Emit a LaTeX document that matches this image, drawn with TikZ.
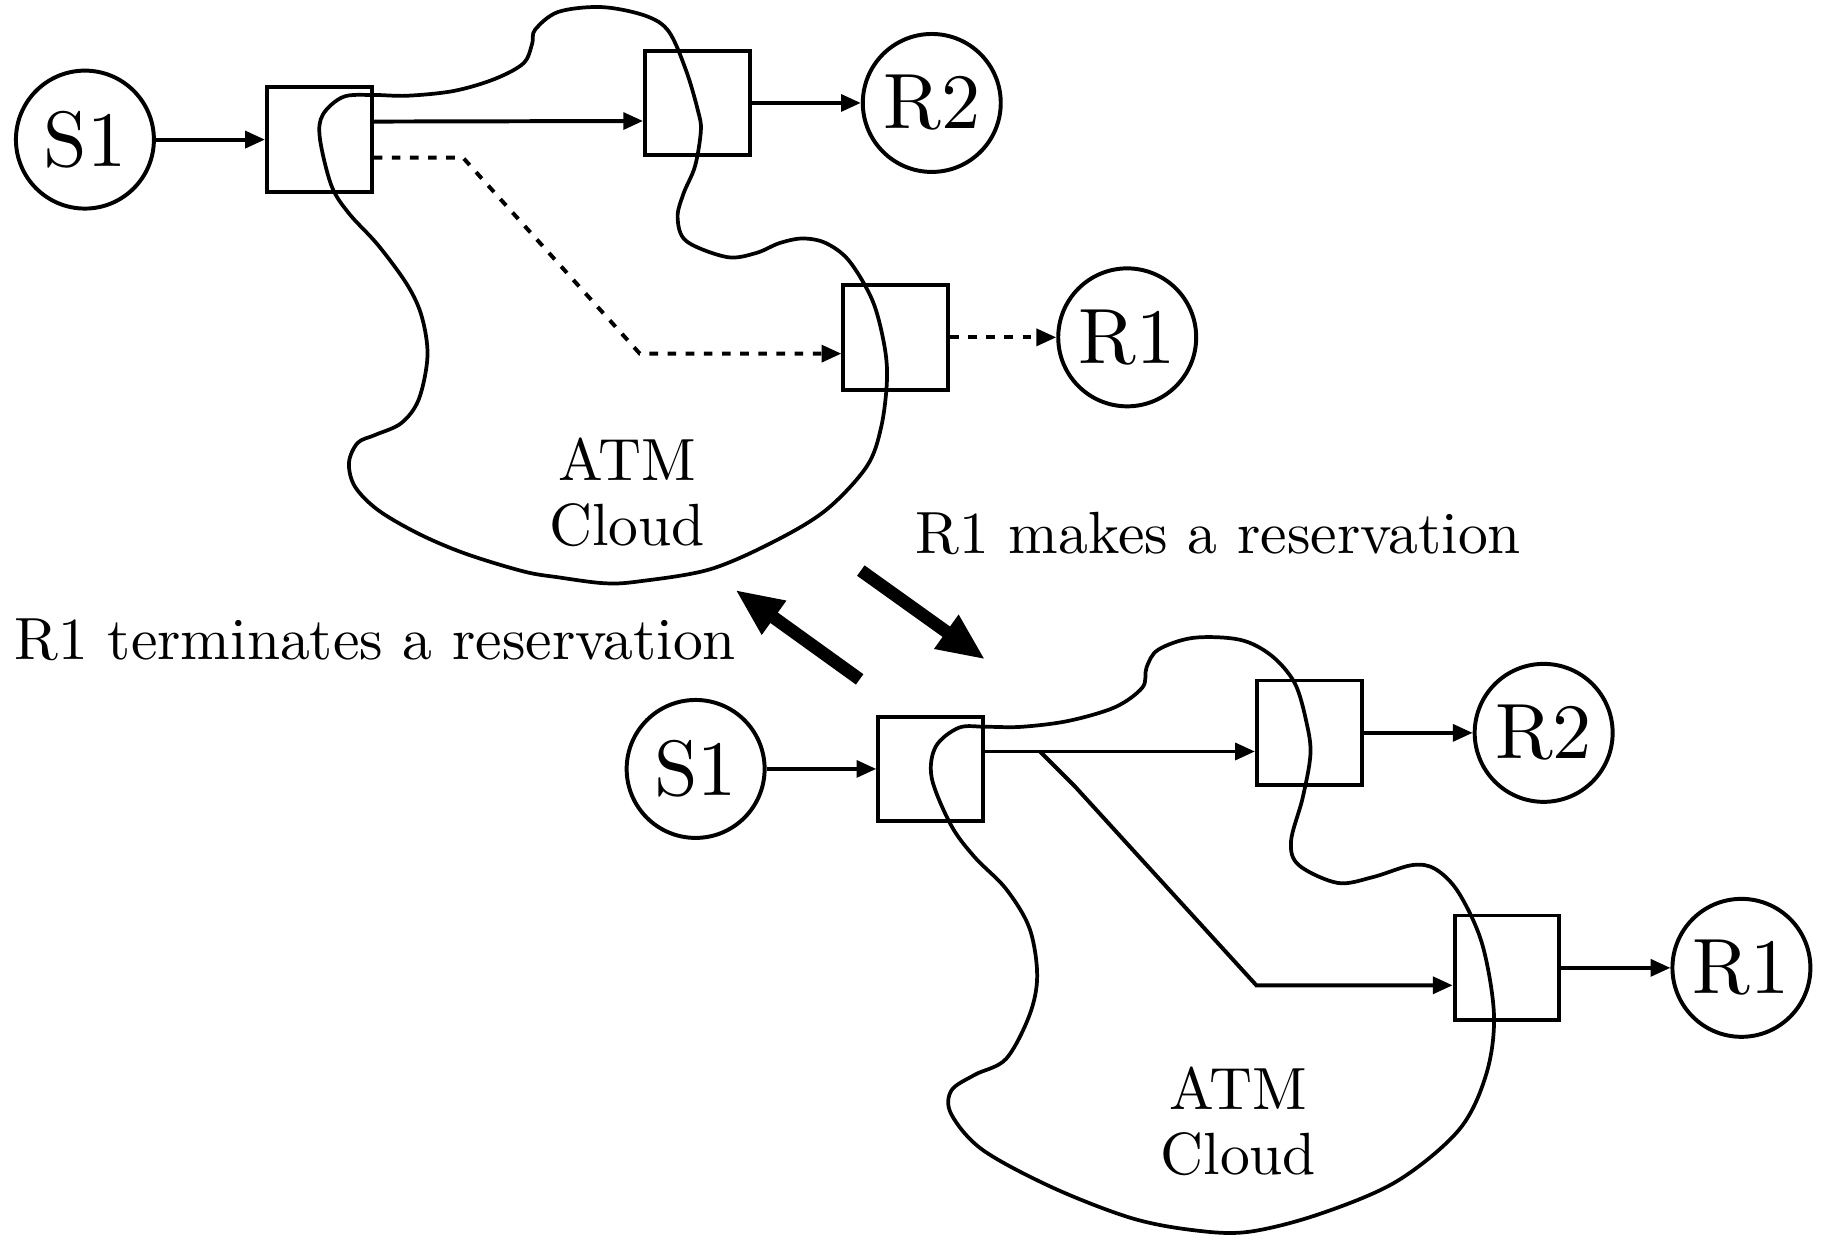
\documentclass[tikz,border=0pt]{standalone}
\usepackage{fontspec}
% design size 10 at every size, for the wider and darker letter shapes
\setmainfont{lmroman10-regular}[Extension=.otf]
\usetikzlibrary{arrows.meta}
\tikzset{
  host/.style={circle, draw, line width=1.7pt, minimum size=59.3pt, inner sep=0pt,
               font=\fontsize{33.7}{40}\selectfont},
  switchbox/.style={rectangle, draw, line width=1.7pt, minimum width=45pt,
                    minimum height=45pt, inner sep=0pt},
  flow/.style={line width=1.7pt, -{Triangle[length=8.5pt,width=7.2pt]}},
  dotflow/.style={flow, dash pattern=on 3.7pt off 4.1pt},
  cloudline/.style={line width=1.6pt, line join=round},
  caption/.style={font=\fontsize{25.6}{28}\selectfont, inner sep=0pt},
  bigarrow/.style={line width=5.5pt, -{Triangle[length=20.6pt,width=16.5pt]}},
}
\begin{document}
\begin{tikzpicture}[x=0.5pt,y=-0.5pt]
\useasboundingbox (0,0) rectangle (1568,1066);

% ---------- upper network: R1 not yet reserved ----------
\draw[cloudline] plot[smooth cycle, tension=0.55] coordinates {
  (320,81.6) (350,82.3) (390,78.2) (425,68) (450,54.4) (457.5,37.4) (460,25.5)
  (480,10.2) (517.5,6.1) (555,13.6) (575,27.2) (590,61.2) (600,95.2) (602.5,112.2)
  (597.5,142.8) (587.5,166.6) (582.5,187) (590,207.3) (625,221) (650,217.5)
  (670,209) (690,205) (710,209) (730,224.3) (750,258.3) (760,295.7) (762.5,326.3)
  (757.5,367.1) (745,401.1) (710,438.5) (665,465.7) (610,489.5) (550,499.7)
  (520,501.4) (480,496.3) (450,491.2) (400,475.9) (360,458.9) (325,438.5)
  (305,418.1) (300,397.7) (307.5,380.7) (322.5,373.9) (345,363.7) (360,343.3)
  (367.5,305.9) (362.5,271.9) (350,244.7) (325,210.7) (300,183.5) (285,159.8)
  (275,119) (277.5,98.6) (295,83.3)};

\node[host] (s1a) at (73,120) {S1};
\node[switchbox] (sw1a) at (274.5,120) {};
\node[switchbox] (sw2a) at (599.5,88.5) {};
\node[host] (r2a) at (801,88.5) {R2};
\node[switchbox] (sw3a) at (770,290) {};
\node[host] (r1a) at (969,290) {R1};

\node[caption, anchor=base] (atma) at (539,413) {ATM};
\node[caption, anchor=base] (clouda) at (539,469) {Cloud};

\draw[flow] (s1a) -- (sw1a);
\draw[flow] ([yshift=7.75pt]sw1a.east) -- ([yshift=-7.75pt]sw2a.west);
\draw[flow] (sw2a) -- (r2a);
\coordinate (benda1) at (398,135.5);
\coordinate (benda2) at (550,304);
\draw[dotflow] ([yshift=-7.75pt]sw1a.east) -- (benda1) -- (benda2) -- ([yshift=-7pt]sw3a.west);
\draw[dotflow] (sw3a) -- (r1a);

% ---------- lower network: R1 reserved ----------
\draw[cloudline] plot[smooth cycle, tension=0.55] coordinates {
  (848,624.8) (878.2,624.8) (918.5,619.7) (958.8,607.8) (982.2,590.8) (985.6,573.8)
  (995.7,558.5) (1025.9,548.3) (1066.1,550) (1093,563.6) (1113.1,587.4)
  (1123.2,621.4) (1126.5,648.6) (1119.8,686) (1109.8,723.3) (1116.5,743.7)
  (1150,759) (1180.2,754) (1213.8,743.7) (1233.9,747.1) (1254,767.5)
  (1274.2,811.7) (1284.3,872.9) (1277.5,923.9) (1254,971.5) (1200.4,1015.7)
  (1133.2,1044) (1072.8,1059) (1025.9,1057.5) (972.2,1047) (905.1,1021)
  (844.7,988.5) (817.8,957.9) (817.8,937.5) (838,923.9) (864.8,910.3)
  (884.9,872.9) (891.6,838.9) (885,798) (864.8,764.1) (838,737) (817.8,709.8)
  (801,669) (804.4,641.8) (824.5,625.5)};

\node[host] (s1b) at (598,661) {S1};
\node[switchbox] (sw1b) at (800,661) {};
\node[switchbox] (sw2b) at (1125.5,630) {};
\node[host] (r2b) at (1327,630) {R2};
\node[switchbox] (sw3b) at (1295.5,832) {};
\node[host] (r1b) at (1497,832) {R1};

\node[caption, anchor=base] (atmb) at (1064.5,954) {ATM};
\node[caption, anchor=base] (cloudb) at (1064.5,1010) {Cloud};

\draw[flow] (s1b) -- (sw1b);
\draw[flow] ([yshift=7.5pt]sw1b.east) -- ([yshift=-8pt]sw2b.west);
\draw[flow] (sw2b) -- (r2b);
\coordinate (forkb) at (894,646);
\coordinate (kinkb) at (924,676);
\coordinate (bendb) at (1080,847);
\draw[flow] (forkb) -- (kinkb) -- (bendb) -- ([yshift=-7.5pt]sw3b.west);
\draw[flow] (sw3b) -- (r1b);

% ---------- transitions between the two states ----------
\node[caption, anchor=base west] (makes) at (786.5,476) {R1 makes a reservation};
\node[caption, anchor=base west] (terminates) at (12,567) {R1 terminates a reservation};
\coordinate (mk0) at (740,490.5);
\coordinate (mk1) at (847,567);
\draw[bigarrow] (mk0) -- (mk1);
\coordinate (tm0) at (739,584);
\coordinate (tm1) at (632,507);
\draw[bigarrow] (tm0) -- (tm1);
\end{tikzpicture}
\end{document}
